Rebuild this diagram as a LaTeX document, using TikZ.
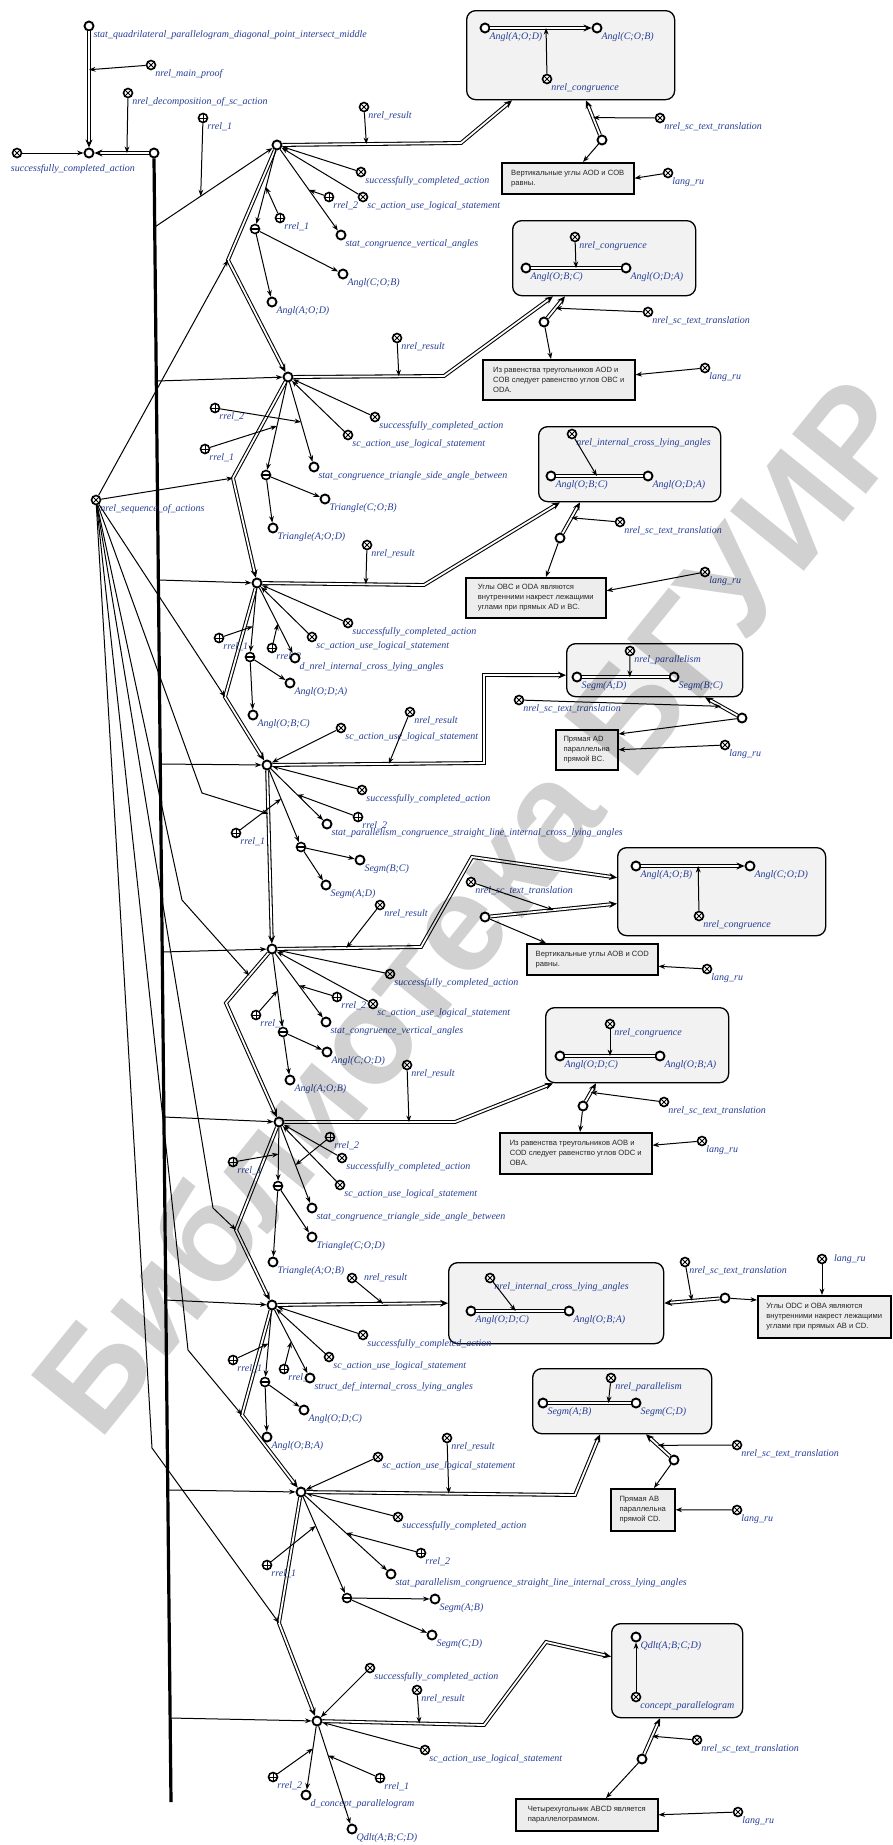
\documentclass[tikz,border=0pt]{standalone}
\usepackage{fontspec}
\setmainfont{Liberation Serif}
\setsansfont{Liberation Sans}
\usetikzlibrary{arrows.meta}
\definecolor{lblue}{RGB}{38,62,150}
\tikzset{
  el/.style={circle, draw=black, fill=white, line width=1.9pt, minimum size=9pt, inner sep=0pt},
  rl/.style={el, line width=1.6pt, path picture={\draw[line width=1pt]
      ([shift={(-3pt,-3pt)}]path picture bounding box.center) -- ([shift={(3pt,3pt)}]path picture bounding box.center)
      ([shift={(-3pt,3pt)}]path picture bounding box.center) -- ([shift={(3pt,-3pt)}]path picture bounding box.center);}},
  ro/.style={el, line width=1.6pt, path picture={\draw[line width=1pt]
      ([xshift=-5pt]path picture bounding box.center) -- ([xshift=5pt]path picture bounding box.center)
      ([yshift=-5pt]path picture bounding box.center) -- ([yshift=5pt]path picture bounding box.center);}},
  tp/.style={el, line width=1.6pt, path picture={\draw[line width=1.1pt]
      ([xshift=-5pt]path picture bounding box.center) -- ([xshift=5pt]path picture bounding box.center);}},
  lbl/.style={font=\fontsize{10}{10.5}\selectfont\itshape, text=lblue, inner sep=0.5pt},
  br/.style={label={[lbl]below right:#1}},
  rt/.style={label={[lbl,xshift=6pt]right:#1}},
  memb/.style={draw, line width=1pt, -{Stealth[length=6.5pt,width=4.8pt]}},
  pair/.style={draw, line width=1.05pt, double=white, double distance=1.8pt, -{Stealth[length=8pt,width=7pt]}},
  pairu/.style={draw, line width=1.05pt, double=white, double distance=1.8pt},
  bus/.style={draw, line width=3.2pt},
  cont/.style={draw, line width=1.3pt, rounded corners=9pt, fill=black!5, anchor=north west, inner sep=0pt},
  tbox/.style={draw, line width=1.5pt, fill=black!7, anchor=north west, inner sep=4pt, align=left,
      font=\sffamily\fontsize{7.6}{10}\selectfont, text=black!85}
}
\begin{document}
\begin{tikzpicture}[x=1pt,y=-1pt]
\useasboundingbox (0,0) rectangle (892,1845);

% structure contours
\node[cont, minimum width=208pt, minimum height=89pt] (c1) at (466,10) {};
\node[cont, minimum width=183pt, minimum height=75pt] (c2) at (512,220) {};
\node[cont, minimum width=182pt, minimum height=75pt] (c3) at (538,426) {};
\node[cont, minimum width=176pt, minimum height=53pt] (c4) at (566,643) {};
\node[cont, minimum width=208pt, minimum height=88pt] (c5) at (617,847) {};
\node[cont, minimum width=183pt, minimum height=75pt] (c6) at (545,1007) {};
\node[cont, minimum width=215pt, minimum height=81pt] (c7) at (448,1262) {};
\node[cont, minimum width=179pt, minimum height=65pt] (c8) at (532,1368) {};
\node[cont, minimum width=131pt, minimum height=94pt] (c9) at (611,1623) {};

% proof header
\node[el, br={stat\_quadrilateral\_parallelogram\_diagonal\_point\_intersect\_middle}] (sq) at (89,26) {};
\node[el] (pr) at (89,153) {};
\node[el] (dec) at (154,153) {};
\node[rl, br={nrel\_main\_proof}] (mp) at (151,65) {};
\node[rl, br={nrel\_decomposition\_of\_sc\_action}] (nd) at (128,93) {};
\node[rl, label={[lbl, anchor=north west, xshift=-3pt, yshift=-7pt]south west:successfully\_completed\_action}] (sc0) at (17,153) {};
\node[ro, br={rrel\_1}] (r0) at (203,118) {};
\draw[pair] (sq) -- coordinate[pos=.33] (sqm) (pr);
\draw[memb] (mp) -- (sqm);
\draw[pair] (dec) -- coordinate[pos=.4] (decm) (pr);
\draw[memb] (nd) -- (decm);
\draw[memb] (sc0) -- (pr);
\coordinate (busend) at (171,1802);
\draw[bus] (dec.south) -- (busend);

% actions
\node[el] (a1) at (277,145) {};
\node[el] (a2) at (288,377) {};
\node[el] (a3) at (257,583) {};
\node[el] (a4) at (267,765) {};
\node[el] (a5) at (272,949) {};
\node[el] (a6) at (279,1122) {};
\node[el] (a7) at (272,1305) {};
\node[el] (a8) at (301,1492) {};
\node[el] (a9) at (317,1721) {};

% bus membership
\coordinate (b1) at (154.8,227);
\coordinate (b2) at (156.4,381);
\coordinate (b3) at (158.4,580);
\coordinate (b4) at (160.3,764);
\coordinate (b5) at (162.2,952);
\coordinate (b6) at (163.9,1117);
\coordinate (b7) at (165.8,1300);
\coordinate (b8) at (167.8,1490);
\coordinate (b9) at (170.1,1718);
\draw[memb] (b1) -- coordinate[pos=.39] (b1m) (a1);
\draw[memb] (r0) -- (b1m);
\draw[memb] (b2) -- (a2);
\draw[memb] (b3) -- (a3);
\draw[memb] (b4) -- (a4);
\draw[memb] (b5) -- (a5);
\draw[memb] (b6) -- (a6);
\draw[memb] (b7) -- (a7);
\draw[memb] (b8) -- (a8);
\draw[memb] (b9) -- (a9);

% action order
\draw[pair] (a1) -- (228,260) coordinate (g1) -- (a2);
\draw[pair] (a2) -- (233,478) coordinate (g2) -- (a3);
\draw[pair] (a3) -- (225,697) coordinate (g3) -- (a4);
\draw[pair] (a4) -- coordinate[pos=.25] (g4) (a5);
\draw[pair] (a5) -- coordinate[pos=.45] (g5) (226,1003) -- (a6);
\draw[pair] (a6) -- (236,1230) coordinate (g6) -- (a7);
\draw[pair] (a7) -- (242,1415) coordinate (g7) -- (a8);
\draw[pair] (a8) -- (279,1623) coordinate (g8) -- (a9);

\node[rl, br={nrel\_sequence\_of\_actions}] (ns) at (96,500) {};
\draw[memb] (ns) -- (g1);
\draw[memb] (ns) -- (g2);
\draw[memb] (ns) -- (g3);
\draw[memb] (ns) -- (202,793) -- (g4);
\draw[memb] (ns) -- (182,900) -- (g5);
\draw[memb] (ns) -- (213,1208) -- (g6);
\draw[memb] (ns) -- (188,1350) -- (g7);
\draw[memb] (ns) -- (152,1448) -- (g8);

% ---------- action 1
\node[rl, br={successfully\_completed\_action}] (a1s) at (361,172) {};
\node[rl, br={sc\_action\_use\_logical\_statement}] (a1u) at (363,197) {};
\node[ro, br={rrel\_2}] (a1r2) at (329,197) {};
\node[el, br={stat\_congruence\_vertical\_angles}] (a1st) at (341,235) {};
\node[ro, br={rrel\_1}] (a1r1) at (280,218) {};
\node[tp] (a1t) at (255,229) {};
\node[el, br={Angl(C;O;B)}] (a1x) at (343,274) {};
\node[el, br={Angl(A;O;D)}] (a1y) at (272,302) {};
\draw[memb] (a1s) -- (a1);
\draw[memb] (a1u) -- (a1);
\draw[memb] (a1) -- coordinate[pos=.5] (a1m2) (a1st);
\draw[memb] (a1r2) -- (a1m2);
\draw[memb] (a1) -- coordinate[pos=.5] (a1m1) (a1t);
\draw[memb] (a1r1) -- (a1m1);
\draw[memb] (a1t) -- (a1x);
\draw[memb] (a1t) -- (a1y);
\node[rl, br={nrel\_result}] (a1nr) at (364,107) {};
\draw[pair] (a1) -- coordinate[pos=.47] (a1rm) (461,143) -- ([xshift=46pt]c1.south west);
\draw[memb] (a1nr) -- (a1rm);
\node[el, br={Angl(A;O;D)}] (c1a) at (485,28) {};
\node[el, br={Angl(C;O;B)}] (c1b) at (597,28) {};
\node[rl, br={nrel\_congruence}] (c1r) at (547,79) {};
\draw[pair] (c1a) -- coordinate[pos=.55] (c1m) (c1b);
\draw[memb] (c1r) -- (c1m);
\node[el] (tr1) at (602,140) {};
\node[rl, br={nrel\_sc\_text\_translation}] (tt1) at (660,118) {};
\node[tbox, minimum width=132pt, minimum height=31pt] (tb1) at (501,162) {Вертикальные углы AOD и COB\\равны.};
\node[rl, br={lang\_ru}] (lr1) at (668,173) {};
\draw[pair] (tr1) -- coordinate[pos=.5] (tr1m) ([xshift=120pt]c1.south west);
\draw[memb] (tt1) -- (tr1m);
\draw[memb] (tr1) -- ([xshift=82pt]tb1.north west);
\draw[memb] (lr1) -- (tb1.east);

% ---------- action 2
\node[rl, br={successfully\_completed\_action}] (a2s) at (375,417) {};
\node[rl, br={sc\_action\_use\_logical\_statement}] (a2u) at (348,435) {};
\node[ro, br={rrel\_2}] (a2r2) at (215,408) {};
\node[ro, br={rrel\_1}] (a2r1) at (205,449) {};
\node[el, br={stat\_congruence\_triangle\_side\_angle\_between}] (a2st) at (314,467) {};
\node[tp] (a2t) at (266,475) {};
\node[el, br={Triangle(C;O;B)}] (a2x) at (325,499) {};
\node[el, br={Triangle(A;O;D)}] (a2y) at (273,528) {};
\draw[memb] (a2s) -- (a2);
\draw[memb] (a2u) -- (a2);
\draw[memb] (a2) -- coordinate[pos=.5] (a2m2) (a2st);
\draw[memb] (a2r2) -- (a2m2);
\draw[memb] (a2) -- coordinate[pos=.5] (a2m1) (a2t);
\draw[memb] (a2r1) -- (a2m1);
\draw[memb] (a2t) -- (a2x);
\draw[memb] (a2t) -- (a2y);
\node[rl, br={nrel\_result}] (a2nr) at (397,338) {};
\draw[pair] (a2) -- coordinate[pos=.7] (a2rm) (444,376) -- ([xshift=41pt]c2.south west);
\draw[memb] (a2nr) -- (a2rm);
\node[rl, br={nrel\_congruence}] (c2r) at (575,237) {};
\node[el, br={Angl(O;B;C)}] (c2a) at (526,268) {};
\node[el, br={Angl(O;D;A)}] (c2b) at (626,268) {};
\draw[pairu] (c2a) -- coordinate[pos=.5] (c2m) (c2b);
\draw[memb] (c2r) -- (c2m);
\node[el] (tr2) at (544,322) {};
\node[rl, br={nrel\_sc\_text\_translation}] (tt2) at (648,312) {};
\node[tbox, minimum width=152pt, minimum height=40pt] (tb2) at (482,359) {Из равенства треугольников AOD и\\COB следует равенство углов OBC и\\ODA.};
\node[rl, br={lang\_ru}] (lr2) at (705,368) {};
\draw[pair] (tr2) -- coordinate[pos=.45] (tr2m) ([xshift=53pt]c2.south west);
\draw[memb] (tt2) -- (tr2m);
\draw[memb] (tr2) -- ([xshift=69pt]tb2.north west);
\draw[memb] (lr2) -- ([yshift=5pt]tb2.east);

% ---------- action 3
\node[rl, br={successfully\_completed\_action}] (a3s) at (348,623) {};
\node[rl, br={sc\_action\_use\_logical\_statement}] (a3u) at (312,637) {};
\node[ro, br={rrel\_1}] (a3r1) at (219,638) {};
\node[ro, br={rrel\_2}] (a3r2) at (272,648) {};
\node[el, br={d\_nrel\_internal\_cross\_lying\_angles}] (a3st) at (295,658) {};
\node[tp] (a3t) at (250,657) {};
\node[el, br={Angl(O;D;A)}] (a3x) at (290,683) {};
\node[el, br={Angl(O;B;C)}] (a3y) at (253,715) {};
\draw[memb] (a3s) -- (a3);
\draw[memb] (a3u) -- (a3);
\draw[memb] (a3) -- coordinate[pos=.55] (a3m2) (a3st);
\draw[memb] (a3r2) -- (a3m2);
\draw[memb] (a3) -- coordinate[pos=.6] (a3m1) (a3t);
\draw[memb] (a3r1) -- (a3m1);
\draw[memb] (a3t) -- (a3x);
\draw[memb] (a3t) -- (a3y);
\node[rl, br={nrel\_result}] (a3nr) at (367,545) {};
\draw[pair] (a3) -- coordinate[pos=.64] (a3rm) (424,585) -- ([xshift=22pt]c3.south west);
\draw[memb] (a3nr) -- (a3rm);
\node[rl, br={nrel\_internal\_cross\_lying\_angles}] (c3r) at (572,434) {};
\node[el, br={Angl(O;B;C)}] (c3a) at (551,476) {};
\node[el, br={Angl(O;D;A)}] (c3b) at (648,476) {};
\draw[pairu] (c3a) -- coordinate[pos=.47] (c3m) (c3b);
\draw[memb] (c3r) -- (c3m);
\node[el] (tr3) at (560,538) {};
\node[rl, br={nrel\_sc\_text\_translation}] (tt3) at (620,522) {};
\node[tbox, minimum width=140pt, minimum height=40pt] (tb3) at (465,577) {Углы OBC и ODA являются\\внутренними накрест лежащими\\углами при прямых AD и BC.};
\node[rl, br={lang\_ru}] (lr3) at (705,572) {};
\draw[pair] (tr3) -- coordinate[pos=.5] (tr3m) ([xshift=42pt]c3.south west);
\draw[memb] (tt3) -- (tr3m);
\draw[memb] (tr3) -- ([xshift=81pt]tb3.north west);
\draw[memb] (lr3) -- ([yshift=7pt]tb3.east);

% ---------- action 4
\node[rl, br={sc\_action\_use\_logical\_statement}] (a4u) at (341,728) {};
\node[rl, br={successfully\_completed\_action}] (a4s) at (362,790) {};
\node[ro, br={rrel\_2}] (a4r2) at (358,817) {};
\node[el, br={stat\_parallelism\_congruence\_straight\_line\_internal\_cross\_lying\_angles}] (a4st) at (327,824) {};
\node[ro, br={rrel\_1}] (a4r1) at (236,833) {};
\node[tp] (a4t) at (301,847) {};
\node[el, br={Segm(B;C)}] (a4x) at (360,860) {};
\node[el, br={Segm(A;D)}] (a4y) at (326,885) {};
\draw[memb] (a4s) -- (a4);
\draw[memb] (a4u) -- (a4);
\draw[memb] (a4) -- coordinate[pos=.5] (a4m2) (a4st);
\draw[memb] (a4r2) -- (a4m2);
\draw[memb] (a4) -- coordinate[pos=.4] (a4m1) (a4t);
\draw[memb] (a4r1) -- (a4m1);
\draw[memb] (a4t) -- (a4x);
\draw[memb] (a4t) -- (a4y);
\node[rl, br={nrel\_result}] (a4nr) at (410,712) {};
\draw[pair] (a4) -- coordinate[pos=.55] (a4rm) (484,763) -- (484,675) -- ([yshift=-5pt]c4.west);
\draw[memb] (a4nr) -- (a4rm);
\node[rl, br={nrel\_parallelism}] (c4r) at (630,651) {};
\node[el, br={Segm(A;D)}] (c4a) at (577,677) {};
\node[el, br={Segm(B;C)}] (c4b) at (674,677) {};
\draw[pairu] (c4a) -- coordinate[pos=.55] (c4m) (c4b);
\draw[memb] (c4r) -- (c4m);
\node[el] (tr4) at (742,718) {};
\node[rl, br={nrel\_sc\_text\_translation}] (tt4) at (519,700) {};
\node[tbox, minimum width=62pt, minimum height=40pt] (tb4) at (555,729) {Прямая AD\\параллельна\\прямой BC.};
\node[rl, br={lang\_ru}] (lr4) at (725,745) {};
\draw[pair] (tr4) -- coordinate[pos=.5] (tr4m) ([xshift=139pt]c4.south west);
\draw[memb] (tt4) -- (tr4m);
\draw[memb] (tr4) -- ([yshift=-5pt]tb4.north east);
\draw[memb] (lr4) -- (tb4.east);

% ---------- action 5
\node[rl, br={successfully\_completed\_action}] (a5s) at (390,974) {};
\node[rl, br={sc\_action\_use\_logical\_statement}] (a5u) at (373,1004) {};
\node[ro, br={rrel\_2}] (a5r2) at (337,997) {};
\node[el, br={stat\_congruence\_vertical\_angles}] (a5st) at (326,1022) {};
\node[ro, br={rrel\_1}] (a5r1) at (256,1015) {};
\node[tp] (a5t) at (283,1032) {};
\node[el, br={Angl(C;O;D)}] (a5x) at (327,1052) {};
\node[el, br={Angl(A;O;B)}] (a5y) at (290,1080) {};
\draw[memb] (a5s) -- (a5);
\draw[memb] (a5u) -- (a5);
\draw[memb] (a5) -- coordinate[pos=.5] (a5m2) (a5st);
\draw[memb] (a5r2) -- (a5m2);
\draw[memb] (a5) -- coordinate[pos=.5] (a5m1) (a5t);
\draw[memb] (a5r1) -- (a5m1);
\draw[memb] (a5t) -- (a5x);
\draw[memb] (a5t) -- (a5y);
\node[rl, br={nrel\_result}] (a5nr) at (380,905) {};
\draw[pair] (a5) -- coordinate[pos=.48] (a5rm) (421,947) -- (472,857) -- ([yshift=14pt]c5.west);
\draw[memb] (a5nr) -- (a5rm);
\node[el, br={Angl(A;O;B)}] (c5a) at (636,866) {};
\node[el, br={Angl(C;O;D)}] (c5b) at (750,866) {};
\node[rl, br={nrel\_congruence}] (c5r) at (699,916) {};
\draw[pair] (c5a) -- coordinate[pos=.55] (c5m) (c5b);
\draw[memb] (c5r) -- (c5m);
\node[el] (tr5) at (485,917) {};
\node[rl, br={nrel\_sc\_text\_translation}] (tt5) at (471,882) {};
\node[tbox, minimum width=131pt, minimum height=31pt] (tb5) at (526,943) {Вертикальные углы AOB и COD\\равны.};
\node[rl, br={lang\_ru}] (lr5) at (707,969) {};
\draw[pair] (tr5) -- coordinate[pos=.5] (tr5m) ([yshift=-12pt]c5.west);
\draw[memb] (tt5) -- (tr5m);
\draw[memb] (tr5) -- ([xshift=20pt]tb5.north west);
\draw[memb] (lr5) -- ([yshift=-7pt]tb5.east);

% ---------- action 6
\node[ro, br={rrel\_2}] (a6r2) at (330,1137) {};
\node[rl, br={successfully\_completed\_action}] (a6s) at (342,1158) {};
\node[rl, br={sc\_action\_use\_logical\_statement}] (a6u) at (340,1185) {};
\node[ro, br={rrel\_1}] (a6r1) at (233,1162) {};
\node[tp] (a6t) at (278,1186) {};
\node[el, br={stat\_congruence\_triangle\_side\_angle\_between}] (a6st) at (312,1208) {};
\node[el, br={Triangle(C;O;D)}] (a6x) at (312,1237) {};
\node[el, br={Triangle(A;O;B)}] (a6y) at (273,1262) {};
\draw[memb] (a6s) -- (a6);
\draw[memb] (a6u) -- (a6);
\draw[memb] (a6) -- coordinate[pos=.5] (a6m2) (a6st);
\draw[memb] (a6r2) -- (a6m2);
\draw[memb] (a6) -- coordinate[pos=.5] (a6m1) (a6t);
\draw[memb] (a6r1) -- (a6m1);
\draw[memb] (a6t) -- (a6x);
\draw[memb] (a6t) -- (a6y);
\node[rl, br={nrel\_result}] (a6nr) at (407,1065) {};
\draw[pair] (a6) -- coordinate[pos=.73] (a6rm) (455,1122) -- ([xshift=8pt]c6.south west);
\draw[memb] (a6nr) -- (a6rm);
\node[rl, br={nrel\_congruence}] (c6r) at (610,1024) {};
\node[el, br={Angl(O;D;C)}] (c6a) at (560,1056) {};
\node[el, br={Angl(O;B;A)}] (c6b) at (660,1056) {};
\draw[pairu] (c6a) -- coordinate[pos=.5] (c6m) (c6b);
\draw[memb] (c6r) -- (c6m);
\node[el] (tr6) at (583,1106) {};
\node[rl, br={nrel\_sc\_text\_translation}] (tt6) at (664,1102) {};
\node[tbox, minimum width=152pt, minimum height=41pt] (tb6) at (499,1132) {Из равенства треугольников AOB и\\COD следует равенство углов ODC и\\OBA.};
\node[rl, br={lang\_ru}] (lr6) at (702,1141) {};
\draw[pair] (tr6) -- coordinate[pos=.5] (tr6m) ([xshift=51pt]c6.south west);
\draw[memb] (tt6) -- (tr6m);
\draw[memb] (tr6) -- ([xshift=81pt]tb6.north west);
\draw[memb] (lr6) -- ([yshift=8pt]tb6.east);

% ---------- action 7
\node[rl, br={successfully\_completed\_action}] (a7s) at (363,1335) {};
\node[rl, br={sc\_action\_use\_logical\_statement}] (a7u) at (329,1357) {};
\node[ro, br={rrel\_1}] (a7r1) at (233,1360) {};
\node[ro, br={rrel\_2}] (a7r2) at (284,1369) {};
\node[el, br={struct\_def\_internal\_cross\_lying\_angles}] (a7st) at (310,1378) {};
\node[tp] (a7t) at (265,1382) {};
\node[el, br={Angl(O;D;C)}] (a7x) at (304,1410) {};
\node[el, br={Angl(O;B;A)}] (a7y) at (267,1437) {};
\draw[memb] (a7s) -- (a7);
\draw[memb] (a7u) -- (a7);
\draw[memb] (a7) -- coordinate[pos=.5] (a7m2) (a7st);
\draw[memb] (a7r2) -- (a7m2);
\draw[memb] (a7) -- coordinate[pos=.5] (a7m1) (a7t);
\draw[memb] (a7r1) -- (a7m1);
\draw[memb] (a7t) -- (a7x);
\draw[memb] (a7t) -- (a7y);
\node[rl, rt={nrel\_result}] (a7nr) at (352,1278) {};
\draw[pair] (a7) -- coordinate[pos=.62] (a7rm) (c7.west);
\draw[memb] (a7nr) -- (a7rm);
\node[rl, br={nrel\_internal\_cross\_lying\_angles}] (c7r) at (490,1278) {};
\node[el, br={Angl(O;D;C)}] (c7a) at (471,1311) {};
\node[el, br={Angl(O;B;A)}] (c7b) at (569,1311) {};
\draw[pairu] (c7a) -- coordinate[pos=.45] (c7m) (c7b);
\draw[memb] (c7r) -- (c7m);
\node[el] (tr7) at (725,1298) {};
\node[rl, br={nrel\_sc\_text\_translation}] (tt7) at (685,1262) {};
\node[tbox, minimum width=133pt, minimum height=42pt] (tb7) at (757,1295) {Углы ODC и OBA являются\\внутренними накрест лежащими\\углами при прямых AB и CD.};
\node[rl, rt={lang\_ru}] (lr7) at (822,1259) {};
\draw[pair] (tr7) -- coordinate[pos=.5] (tr7m) (c7.east);
\draw[memb] (tt7) -- (tr7m);
\draw[memb] (tr7) -- ([yshift=-5pt]tb7.north west);
\draw[memb] (lr7) -- ([xshift=65pt]tb7.north west);

% ---------- action 8
\node[rl, br={sc\_action\_use\_logical\_statement}] (a8u) at (378,1457) {};
\node[rl, br={successfully\_completed\_action}] (a8s) at (398,1517) {};
\node[ro, br={rrel\_2}] (a8r2) at (421,1553) {};
\node[el, br={stat\_parallelism\_congruence\_straight\_line\_internal\_cross\_lying\_angles}] (a8st) at (391,1574) {};
\node[ro, br={rrel\_1}] (a8r1) at (267,1565) {};
\node[tp] (a8t) at (347,1598) {};
\node[el, br={Segm(A;B)}] (a8x) at (435,1599) {};
\node[el, br={Segm(C;D)}] (a8y) at (432,1635) {};
\draw[memb] (a8s) -- (a8);
\draw[memb] (a8u) -- (a8);
\draw[memb] (a8) -- coordinate[pos=.5] (a8m2) (a8st);
\draw[memb] (a8r2) -- (a8m2);
\draw[memb] (a8) -- coordinate[pos=.3] (a8m1) (a8t);
\draw[memb] (a8r1) -- (a8m1);
\draw[memb] (a8t) -- (a8x);
\draw[memb] (a8t) -- (a8y);
\node[rl, br={nrel\_result}] (a8nr) at (447,1438) {};
\draw[pair] (a8) -- coordinate[pos=.53] (a8rm) (575,1495) -- ([xshift=68pt]c8.south west);
\draw[memb] (a8nr) -- (a8rm);
\node[rl, br={nrel\_parallelism}] (c8r) at (611,1378) {};
\node[el, br={Segm(A;B)}] (c8a) at (543,1403) {};
\node[el, br={Segm(C;D)}] (c8b) at (636,1403) {};
\draw[pairu] (c8a) -- coordinate[pos=.73] (c8m) (c8b);
\draw[memb] (c8r) -- (c8m);
\node[el] (tr8) at (674,1460) {};
\node[rl, br={nrel\_sc\_text\_translation}] (tt8) at (737,1445) {};
\node[tbox, minimum width=64pt, minimum height=42pt] (tb8) at (610,1488) {Прямая AB\\параллельна\\прямой CD.};
\node[rl, br={lang\_ru}] (lr8) at (737,1510) {};
\draw[pair] (tr8) -- coordinate[pos=.5] (tr8m) ([xshift=114pt]c8.south west);
\draw[memb] (tt8) -- (tr8m);
\draw[memb] (tr8) -- ([xshift=44pt]tb8.north west);
\draw[memb] (lr8) -- (tb8.east);

% ---------- action 9
\node[rl, br={successfully\_completed\_action}] (a9s) at (370,1668) {};
\node[rl, br={sc\_action\_use\_logical\_statement}] (a9u) at (425,1750) {};
\node[ro, br={rrel\_1}] (a9r1) at (380,1778) {};
\node[ro, br={rrel\_2}] (a9r2) at (273,1777) {};
\node[el, br={d\_concept\_parallelogram}] (a9x) at (306,1795) {};
\node[el, br={Qdlt(A;B;C;D)}] (a9y) at (352,1829) {};
\draw[memb] (a9s) -- (a9);
\draw[memb] (a9u) -- (a9);
\draw[memb] (a9) -- coordinate[pos=.35] (a9m2) (a9x);
\draw[memb] (a9r2) -- (a9m2);
\draw[memb] (a9) -- coordinate[pos=.3] (a9m1) (a9y);
\draw[memb] (a9r1) -- (a9m1);
\node[rl, br={nrel\_result}] (a9nr) at (417,1690) {};
\draw[pair] (a9) -- coordinate[pos=.6] (a9rm) (484,1725) -- (546,1642) -- ([yshift=14pt]c9.west);
\draw[memb] (a9nr) -- (a9rm);
\node[el, br={Qdlt(A;B;C;D)}] (c9a) at (636,1637) {};
\node[rl, br={concept\_parallelogram}] (c9r) at (636,1697) {};
\draw[memb] (c9r) -- (c9a);
\node[el] (tr9) at (642,1759) {};
\node[rl, br={nrel\_sc\_text\_translation}] (tt9) at (697,1740) {};
\node[tbox, minimum width=142pt, minimum height=32pt] (tb9) at (515,1798) {Четырехугольник ABCD является\\параллелограммом.};
\node[rl, br={lang\_ru}] (lr9) at (738,1812) {};
\draw[pair] (tr9) -- coordinate[pos=.5] (tr9m) ([xshift=49pt]c9.south west);
\draw[memb] (tt9) -- (tr9m);
\draw[memb] (tr9) -- ([xshift=91pt]tb9.north west);
\draw[memb] (lr9) -- (tb9.east);

% library stamp across the sheet
\node[rotate=51, text=black, opacity=0.18, font=\sffamily\bfseries\fontsize{138}{138}\selectfont] (wm) at (470,905) {Библиотека БГУИР};
\end{tikzpicture}
\end{document}
